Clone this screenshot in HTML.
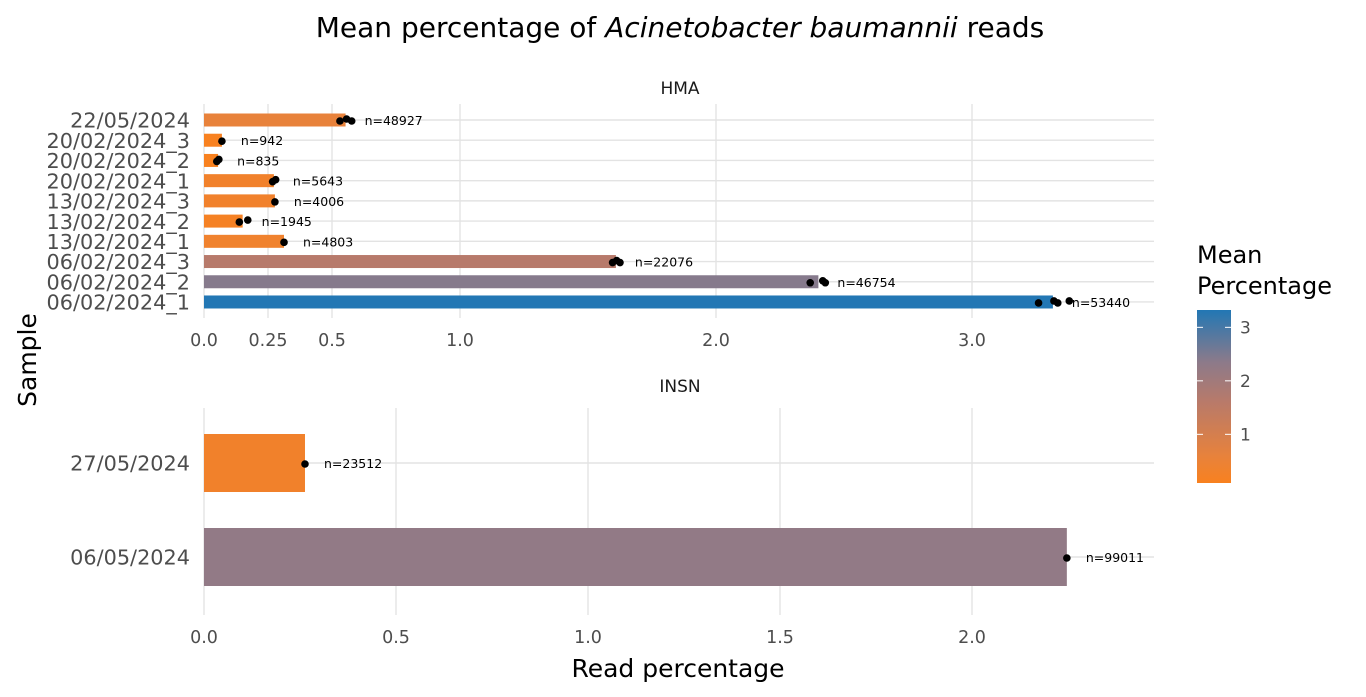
<!DOCTYPE html>
<html><head><meta charset="utf-8"><style>
html,body{margin:0;padding:0;background:#fff;}
svg{display:block;font-family:"DejaVu Sans","Liberation Sans",sans-serif;}
</style></head><body>
<svg id="chart" width="1366" height="697" viewBox="0 0 1366 697">
<defs>
<linearGradient id="cbar" x1="0" y1="1" x2="0" y2="0">
<stop offset="0" stop-color="#F8811F"/><stop offset="0.15" stop-color="#E8823B"/><stop offset="0.47" stop-color="#B87A6A"/><stop offset="0.7" stop-color="#8C7A8A"/><stop offset="1" stop-color="#2277B4"/>
</linearGradient>
</defs>
<text x="680" y="37" text-anchor="middle" font-size="28" fill="#000">Mean percentage of <tspan font-style="italic">Acinetobacter baumannii</tspan> reads</text>
<text x="680" y="94" text-anchor="middle" font-size="17" fill="#1a1a1a">HMA</text>
<text x="680" y="392" text-anchor="middle" font-size="17" fill="#1a1a1a">INSN</text>
<text x="678" y="677" text-anchor="middle" font-size="25" fill="#000">Read percentage</text>
<text transform="translate(36,360) rotate(-90)" text-anchor="middle" font-size="25" fill="#000">Sample</text>
<g>
<text x="1197" y="263" font-size="24" fill="#000"><tspan x="1197">Mean</tspan><tspan x="1197" dy="31">Percentage</tspan></text>
<rect x="1197" y="310" width="34" height="173" fill="url(#cbar)"/>
<g id="legendTicks"></g>
</g>
<g id="top"></g>
<g id="bottom"></g>
</svg>
<script>
const hmaCategories = ["22/05/2024","20/02/2024_3","20/02/2024_2","20/02/2024_1","13/02/2024_3","13/02/2024_2","13/02/2024_1","06/02/2024_3","06/02/2024_2","06/02/2024_1"];
const hmaMeans = [0.553,0.070,0.055,0.273,0.277,0.151,0.3125,1.609,2.400,3.316];
const hmaCounts = ["n=48927","n=942","n=835","n=5643","n=4006","n=1945","n=4803","n=22076","n=46754","n=53440"];
const hmaPoints = [[0.531,0.557,0.577],[0.070],[0.050,0.058],[0.268,0.280],[0.277],[0.138,0.171],[0.3125],[1.596,1.612,1.625],[2.368,2.417,2.427],[3.26,3.32,3.335,3.38]];
const hmaTicks = [0,0.25,0.5,1,2,3];
const hmaTickLabels = ["0.0","0.25","0.5","1.0","2.0","3.0"];
const insnCategories = ["27/05/2024","06/05/2024"];
const insnMeans = [0.263,2.247];
const insnCounts = ["n=23512","n=99011"];
const insnPoints = [[0.263],[2.247]];
const insnTicks = [0,0.5,1,1.5,2];
const insnTickLabels = ["0.0","0.5","1.0","1.5","2.0"];
const legendTicks = [1,2,3];

const NS="http://www.w3.org/2000/svg";
function mk(tag,attrs,parent){const e=document.createElementNS(NS,tag);for(const k in attrs)e.setAttribute(k,attrs[k]);parent.appendChild(e);return e;}
function hex(c){return [parseInt(c.slice(1,3),16),parseInt(c.slice(3,5),16),parseInt(c.slice(5,7),16)];}
const stops=[[0,"#F8811F"],[0.15,"#E8823B"],[0.47,"#B87A6A"],[0.7,"#8C7A8A"],[1,"#2277B4"]];
const vmin=0.055,vmax=3.324;
function colorFor(v){let t=(v-vmin)/(vmax-vmin);t=Math.max(0,Math.min(1,t));
 for(let i=1;i<stops.length;i++){if(t<=stops[i][0]){const a=hex(stops[i-1][1]),b=hex(stops[i][1]);const f=(t-stops[i-1][0])/(stops[i][0]-stops[i-1][0]);
 return "rgb("+a.map((x,j)=>Math.round(x+(b[j]-x)*f)).join(",")+")";}}return stops[stops.length-1][1];}

function panel(g,cfg){
 const x=v=>cfg.x0+v*cfg.scale;
 const y=i=>cfg.yTop+i*cfg.step;
 cfg.ticks.forEach((t,i)=>{
  const l=mk("line",{x1:x(t),x2:x(t),y1:cfg.gTop,y2:cfg.gBot,stroke:"#e3e3e3","stroke-width":1.4},g);
  
  
  const tx=mk("text",{x:x(t),y:cfg.tickY,"text-anchor":"middle","font-size":17.5,fill:"#4d4d4d"},g);tx.textContent=cfg.tickLabels[i];
  
  
 });
 cfg.cats.forEach((c,i)=>{
  const l=mk("line",{x1:cfg.x0,x2:1154,y1:y(i),y2:y(i),stroke:"#e3e3e3","stroke-width":1.4},g);
  
  
  const tx=mk("text",{x:190,y:y(i)+cfg.fs*0.37,"text-anchor":"end","font-size":cfg.fs,fill:"#4d4d4d"},g);tx.textContent=c;
  
  
 });
 cfg.cats.forEach((c,i)=>{
  const r=mk("rect",{x:cfg.x0,y:y(i)-cfg.bh/2,width:x(cfg.means[i])-cfg.x0,height:cfg.bh,fill:colorFor(cfg.means[i])},g);
  
  
  cfg.points[i].forEach((p,j)=>{
   const d=mk("circle",{cx:x(p),cy:y(i)+((j%2)?-1:1),r:3.8,fill:"#000"},g);
   
   
  });
  const lab=mk("text",{x:x(cfg.means[i])+19,y:y(i)+5,"font-size":12.5,fill:"#000"},g);lab.textContent=cfg.counts[i];
  
  
 });
}
panel(document.getElementById("top"),{cats:hmaCategories,means:hmaMeans,counts:hmaCounts,points:hmaPoints,ticks:hmaTicks,tickLabels:hmaTickLabels,x0:204,scale:256,yTop:120,step:20.22,bh:13,gTop:104,gBot:318,tickY:346,fs:20.8});
panel(document.getElementById("bottom"),{cats:insnCategories,means:insnMeans,counts:insnCounts,points:insnPoints,ticks:insnTicks,tickLabels:insnTickLabels,x0:204,scale:384,yTop:463,step:94,bh:58,gTop:408,gBot:615,tickY:643,fs:20.8});
const lg=document.getElementById("legendTicks");
legendTicks.forEach(t=>{
 const yy=310+(vmax-t)*53.5;
 const a=mk("line",{x1:1197,x2:1203,y1:yy,y2:yy,stroke:"#fff","stroke-width":1},lg);
 
 
 const b=mk("line",{x1:1225,x2:1231,y1:yy,y2:yy,stroke:"#fff","stroke-width":1},lg);
 
 
 const tx=mk("text",{x:1240,y:yy+6,"font-size":17,fill:"#4d4d4d"},lg);tx.textContent=String(t);
 
 
});
</script>
</body></html>
